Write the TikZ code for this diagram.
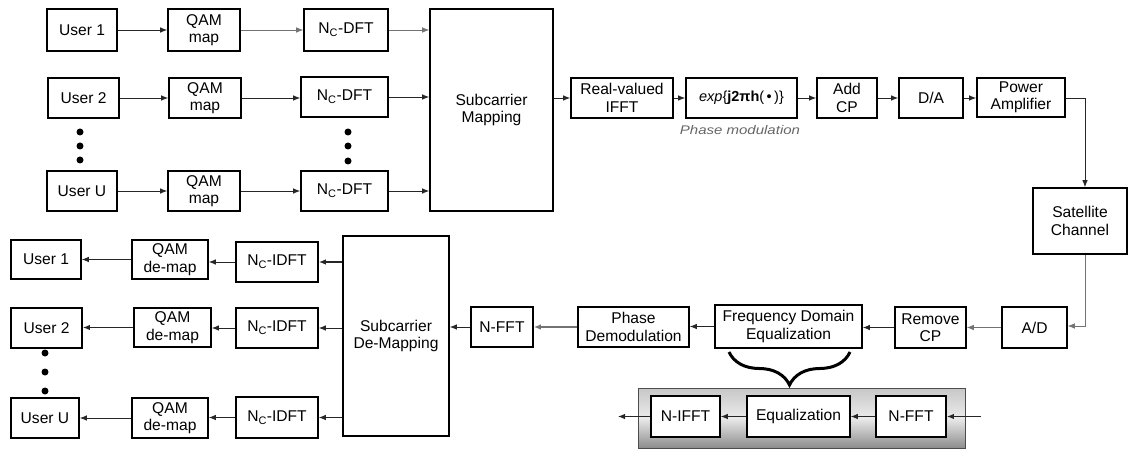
\documentclass[tikz,border=0pt]{standalone}
\usepackage{fontspec}
\setmainfont{Liberation Sans}
\usetikzlibrary{arrows.meta,decorations.pathreplacing}
\begin{document}
\begin{tikzpicture}[x=1pt,y=-1pt,
  box/.style={draw=black,line width=1.6pt,fill=white,inner sep=0pt,align=center,
    font=\fontsize{15.6}{17.5}\selectfont},
  arr/.style={-{Latex[length=7pt,width=5.5pt]},line width=0.9pt,draw=black!85},
  arrg/.style={-{Latex[length=7pt,width=5.5pt]},line width=0.7pt,draw=black!55},
  dot/.style={circle,fill=black,inner sep=0pt,minimum size=7pt},
]
\useasboundingbox (0,0) rectangle (1129,449);
% ---------- transmitter ----------
\node[box,minimum width=70,minimum height=42] (u1) at (82,30) {User 1};
\node[box,minimum width=72,minimum height=42] (q1) at (204,30) {QAM\\map};
\node[box,minimum width=84,minimum height=42] (d1) at (346,30) {N\textsubscript{C}-DFT};
\node[box,minimum width=71,minimum height=40] (u2) at (83.5,98) {User 2};
\node[box,minimum width=72,minimum height=40] (q2) at (205,98) {QAM\\map};
\node[box,minimum width=87,minimum height=40] (d2) at (344.5,97) {N\textsubscript{C}-DFT};
\node[box,minimum width=70,minimum height=40] (uU) at (82,191) {User U};
\node[box,minimum width=72,minimum height=40] (qU) at (204,191) {QAM\\map};
\node[box,minimum width=87,minimum height=40] (dU) at (344.5,191) {N\textsubscript{C}-DFT};
\node[dot] (tl1) at (80,132) {};
\node[dot] (tl2) at (80,146) {};
\node[dot] (tl3) at (80,160) {};
\node[dot] (tr1) at (348,132) {};
\node[dot] (tr2) at (348,146) {};
\node[dot] (tr3) at (348,161) {};
\node[box,minimum width=123,minimum height=202] (map) at (491.5,110) {Subcarrier\\Mapping};
\node[box,minimum width=102,minimum height=40] (ifft) at (622,98) {Real-valued\\IFFT};
\node[box,minimum width=111,minimum height=40,font=\fontsize{14.5}{16}\selectfont] (exp) at (741.5,98) {\textit{exp}\{\textbf{j2πh}(\,•\,)\}};
\node[text=black!60,inner sep=0pt] (pml) at (740,130) {\scalebox{1.2}[1]{\fontsize{12.5}{13}\selectfont\itshape Phase modulation}};
\node[box,minimum width=60,minimum height=40] (cp) at (847,98) {Add\\CP};
\node[box,minimum width=64,minimum height=40] (da) at (931,98) {D/A};
\node[box,minimum width=88,minimum height=39] (pa) at (1021,97.5) {Power\\Amplifier};
\node[box,minimum width=94,minimum height=66] (sat) at (1080,221) {Satellite\\Channel};
% ---------- receiver ----------
\node[box,minimum width=65,minimum height=41] (ad) at (1034.5,327.5) {A/D};
\node[box,minimum width=71,minimum height=41] (rcp) at (930.5,327.5) {Remove\\CP};
\node[box,minimum width=147,minimum height=43] (fde) at (788.5,326.5) {Frequency Domain\\Equalization};
\node[box,minimum width=111,minimum height=40] (pd) at (633.5,327) {Phase\\Demodulation};
\node[box,minimum width=62,minimum height=40] (nfft) at (502,327) {N-FFT};
\node[box,minimum width=106,minimum height=200] (demap) at (396,336) {Subcarrier\\De-Mapping};
\node[box,minimum width=82,minimum height=40] (i1) at (277,262) {N\textsubscript{C}-IDFT};
\node[box,minimum width=76,minimum height=39] (m1) at (170,259.5) {QAM\\de-map};
\node[box,minimum width=70,minimum height=39] (r1) at (46,259.5) {User 1};
\node[box,minimum width=82,minimum height=40] (i2) at (277,328) {N\textsubscript{C}-IDFT};
\node[box,minimum width=77,minimum height=39] (m2) at (172.5,327.5) {QAM\\de-map};
\node[box,minimum width=71,minimum height=40] (r2) at (46.5,328) {User 2};
\node[box,minimum width=82,minimum height=41] (iU) at (277,417.5) {N\textsubscript{C}-IDFT};
\node[box,minimum width=76,minimum height=40] (mU) at (170,418) {QAM\\de-map};
\node[box,minimum width=68,minimum height=40] (rU) at (45,418) {User U};
\node[dot] (rl1) at (45,353) {};
\node[dot] (rl2) at (45,372) {};
\node[dot] (rl3) at (45,391) {};
% ---------- equalizer detail ----------
\node[draw=black!70,line width=0.8pt,top color=black!22,bottom color=black!45,middle color=black!8,
  minimum width=327,minimum height=60,inner sep=0pt] (gbox) at (801.5,418) {};
\node[box,minimum width=69,minimum height=41] (nifft) at (685.5,416.5) {N-IFFT};
\node[box,minimum width=103,minimum height=41] (eq) at (798.5,416.5) {Equalization};
\node[box,minimum width=70,minimum height=41] (infft) at (911,416.5) {N-FFT};
\coordinate (ein) at (981,416.5);
\coordinate (eout) at (618,416.5);
\coordinate (bR) at (850,352);
\coordinate (bL) at (729,352);
\draw[line width=3pt,decorate,decoration={brace,amplitude=33pt,aspect=0.5}] (bR) -- (bL);
% ---------- connectors (tx) ----------
\draw[arr] (u1.east) -- (u1.east -| q1.west);
\draw[arrg] (q1.east) -- (q1.east -| d1.west);
\draw[arrg] (d1.east) -- (d1.east -| map.west);
\draw[arr] (u2.east) -- (u2.east -| q2.west);
\draw[arr] (q2.east) -- (q2.east -| d2.west);
\draw[arr] (d2.east) -- (d2.east -| map.west);
\draw[arr] (uU.east) -- (uU.east -| qU.west);
\draw[arr] (qU.east) -- (qU.east -| dU.west);
\draw[arr] (dU.east) -- (dU.east -| map.west);
\draw[arr] (map.east |- ifft.west) -- (ifft.west);
\draw[arr] (ifft) -- (exp);
\draw[arr] (exp) -- (cp);
\draw[arr] (cp) -- (da);
\draw[arr] (da.east) -- (da.east -| pa.west);
\coordinate (pac) at (1085,98);
\draw[arr] (pa.east |- pac) -- (pac) -- (pac |- sat.north);
\coordinate (sac) at (1085,326);
\draw[arrg] (sat.south -| sac) -- (sac) -- (sac -| ad.east);
% ---------- connectors (rx) ----------
\draw[arrg] (ad.west) -- (ad.west -| rcp.east);
\draw[arr] (rcp.west) -- (rcp.west -| fde.east);
\draw[arr] (fde.west) -- (fde.west -| pd.east);
\draw[arrg,line width=1.4pt] (pd.west) -- (pd.west -| nfft.east);
\draw[arr] (nfft.west) -- (nfft.west -| demap.east);
\draw[arr,line width=1.4pt] (demap.west |- i1.east) -- (i1.east);
\draw[arr] (demap.west |- i2.east) -- (i2.east);
\draw[arr] (demap.west |- iU.east) -- (iU.east);
\draw[arr] (i1.west) -- (i1.west -| m1.east);
\draw[arr] (m1.west) -- (m1.west -| r1.east);
\draw[arr] (i2.west) -- (i2.west -| m2.east);
\draw[arr,line width=1.4pt] (m2.west) -- (m2.west -| r2.east);
\draw[arr] (iU.west) -- (iU.west -| mU.east);
\draw[arr] (mU.west) -- (mU.west -| rU.east);
% ---------- connectors (equalizer) ----------
\draw[arr,line width=1.4pt] (ein) -- (infft.east);
\draw[arr] (infft) -- (eq);
\draw[arr] (eq) -- (nifft);
\draw[arr] (nifft) -- (eout);
\end{tikzpicture}
\end{document}
